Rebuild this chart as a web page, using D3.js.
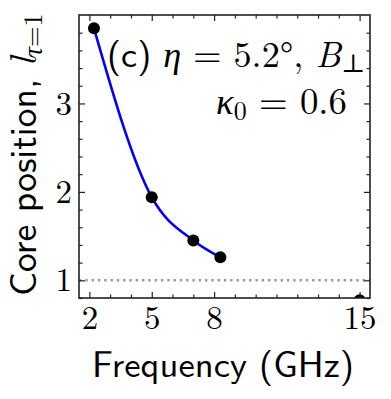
<!DOCTYPE html>
<html>
<head>
<meta charset="utf-8">
<script src="https://cdn.jsdelivr.net/npm/d3@7"></script>
<style>
  html, body { margin: 0; padding: 0; background: #fff; }
  svg { display: block; }
</style>
</head>
<body>
<svg id="chart" width="391" height="399"></svg>
<script>
// ---- data ----
const freqGHz = [2.22, 5.0, 7.0, 8.3];
const corePos = [3.85, 1.94, 1.45, 1.26];
const extraFreq = [15.0];
const extraPos = [0.775];
const refLevel = [1.0];
const xMajorTicks = [2, 5, 8, 15];
const xMinorTicks = [3, 4, 6, 7, 9, 10, 11, 12, 13, 14];
const yMajorTicks = [1, 2, 3];
const yMinorTicks = [0.8, 1.2, 1.4, 1.6, 1.8, 2.2, 2.4, 2.6, 2.8, 3.2, 3.4, 3.6, 3.8];
const xDomain = [1.5, 15.5];
const yDomain = [0.8, 4.0];

// ---- layout ----
const W = 391, H = 399;
const L = 79, R = 370, T = 15, B = 298;
const ROMAN = '"Latin Modern Roman", "Liberation Serif"';
const GREEK = '"Liberation Serif", "DejaVu Serif"';
const SANS = '"Latin Modern Sans", "DejaVu Sans"';

const svg = d3.select('#chart');
svg.append('rect').attr('width', W).attr('height', H).attr('fill', '#fff');

const x = d3.scaleLinear().domain(xDomain).range([L, R]);
const y = d3.scaleLinear().domain(yDomain).range([B, T]);

svg.append('clipPath').attr('id', 'clip')
  .append('rect').attr('x', L).attr('y', T).attr('width', R - L).attr('height', B - T);

// reference dotted line
svg.append('g').attr('clip-path', 'url(#clip)')
  .selectAll('line.ref').data(refLevel).join('line')
  .attr('x1', L).attr('x2', R)
  .attr('y1', d => y(d)).attr('y2', d => y(d))
  .attr('stroke', '#999').attr('stroke-width', 2.4)
  .attr('stroke-dasharray', '2.4,3.9');

// fitted curve
const pts = freqGHz.map((f, i) => [f, corePos[i]]);
const line = d3.line().x(d => x(d[0])).y(d => y(d[1])).curve(d3.curveMonotoneX);
const gData = svg.append('g').attr('clip-path', 'url(#clip)');
gData.append('path').datum(pts)
  .attr('d', line)
  .attr('fill', 'none').attr('stroke', '#0000ff').attr('stroke-width', 2.6);

gData.selectAll('circle.pt').data(pts).join('circle')
  .attr('cx', d => x(d[0])).attr('cy', d => y(d[1])).attr('r', 6)
  .attr('fill', '#000');
gData.selectAll('circle.ex').data(extraFreq.map((f, i) => [f, extraPos[i]])).join('circle')
  .attr('cx', d => x(d[0])).attr('cy', d => y(d[1])).attr('r', 6)
  .attr('fill', '#000');

// axes with inward ticks
function styleAxis(g) {
  g.select('.domain').remove();
  g.attr('font-family', null).attr('font-size', null);
  g.selectAll('line').attr('stroke', '#222').attr('stroke-width', 1.2);
}
function styleLabels(g) {
  g.selectAll('text').style('font-family', ROMAN).style('font-size', '33px').attr('fill', '#000');
}
svg.append('g').attr('transform', `translate(0,${B})`)
  .call(d3.axisBottom(x).tickValues(xMajorTicks).tickSize(-6).tickPadding(8).tickFormat(d3.format('d')))
  .call(styleAxis).call(styleLabels);
svg.append('g').attr('transform', `translate(0,${B})`)
  .call(d3.axisBottom(x).tickValues(xMinorTicks).tickSize(-3.5).tickFormat(''))
  .call(styleAxis);
svg.append('g').attr('transform', `translate(0,${T})`)
  .call(d3.axisTop(x).tickValues(xMajorTicks).tickSize(-6).tickFormat(''))
  .call(styleAxis);
svg.append('g').attr('transform', `translate(0,${T})`)
  .call(d3.axisTop(x).tickValues(xMinorTicks).tickSize(-3.5).tickFormat(''))
  .call(styleAxis);
svg.append('g').attr('transform', `translate(${L},0)`)
  .call(d3.axisLeft(y).tickValues(yMajorTicks).tickSize(-6).tickPadding(7).tickFormat(d3.format('d')))
  .call(styleAxis).call(styleLabels);
svg.append('g').attr('transform', `translate(${L},0)`)
  .call(d3.axisLeft(y).tickValues(yMinorTicks).tickSize(-3.5).tickFormat(''))
  .call(styleAxis);
svg.append('g').attr('transform', `translate(${R},0)`)
  .call(d3.axisRight(y).tickValues(yMajorTicks).tickSize(-6).tickFormat(''))
  .call(styleAxis);
svg.append('g').attr('transform', `translate(${R},0)`)
  .call(d3.axisRight(y).tickValues(yMinorTicks).tickSize(-3.5).tickFormat(''))
  .call(styleAxis);

// frame
svg.append('rect').attr('x', L).attr('y', T).attr('width', R - L).attr('height', B - T)
  .attr('fill', 'none').attr('stroke', '#222').attr('stroke-width', 1.6);

// helper: scale all font sizes of a text so it spans a target width
function fitWidth(textSel, target) {
  const w = textSel.node().getComputedTextLength();
  if (!w) return;
  const k = target / w;
  textSel.selectAll('tspan').each(function () {
    const s = parseFloat(this.style.fontSize);
    if (s) this.style.fontSize = (s * k) + 'px';
  });
  const s0 = parseFloat(textSel.node().style.fontSize);
  if (s0) textSel.node().style.fontSize = (s0 * k) + 'px';
}

// x label
const xl = svg.append('text').attr('x', 92).attr('y', 377)
  .style('font-family', SANS).style('font-size', '34px').attr('fill', '#000');
xl.append('tspan').style('font-size', '34px').text('Frequency (GHz)');
fitWidth(xl, 262);

// y label
const yl = svg.append('text').attr('transform', 'translate(36,296) rotate(-90)')
  .style('font-family', SANS).style('font-size', '34px').attr('fill', '#000');
yl.append('tspan').style('font-size', '34px').text('Core position, ');
yl.append('tspan').style('font-family', ROMAN).style('font-style', 'italic').style('font-size', '34px').text('l');
yl.append('tspan').style('font-family', GREEK).style('font-size', '24px').style('font-style', 'italic').attr('dy', 6).text('τ');
yl.append('tspan').style('font-family', ROMAN).style('font-size', '24px').text('=1');
fitWidth(yl, 283);

// annotation
const t1 = svg.append('text').attr('x', 107).attr('y', 67).attr('fill', '#000').style('font-size', '34px');
t1.append('tspan').style('font-family', SANS).style('font-size', '34px').text('(c) ');
t1.append('tspan').style('font-family', GREEK).style('font-style', 'italic').style('font-size', '34px').text('η');
t1.append('tspan').style('font-family', ROMAN).style('font-size', '34px').text(' = 5.2°, ');
t1.append('tspan').style('font-family', ROMAN).style('font-style', 'italic').style('font-size', '34px').text('B');
t1.append('tspan').style('font-family', GREEK).style('font-size', '24px').attr('dy', 5).text('⊥');
fitWidth(t1, 258);

const t2 = svg.append('text').attr('x', 216).attr('y', 114)
  .attr('fill', '#000').style('font-size', '34px');
t2.append('tspan').style('font-family', GREEK).style('font-style', 'italic').style('font-size', '34px').text('κ');
t2.append('tspan').style('font-family', ROMAN).style('font-size', '24px').attr('dy', 6).text('0');
t2.append('tspan').style('font-family', ROMAN).style('font-size', '34px').attr('dy', -6).text(' = 0.6');
fitWidth(t2, 131);
</script>
</body>
</html>
